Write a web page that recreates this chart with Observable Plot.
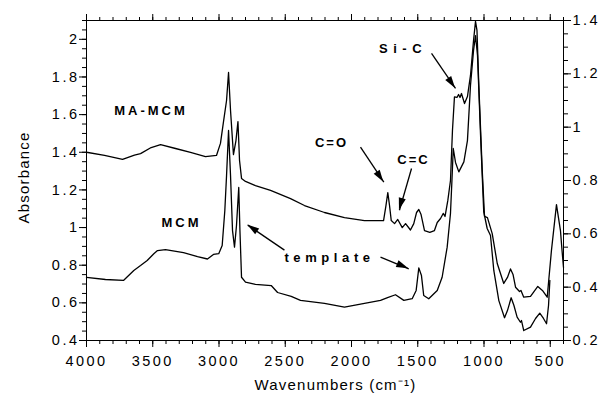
<!DOCTYPE html>
<html><head><meta charset="utf-8">
<script src="https://cdn.jsdelivr.net/npm/d3@7"></script>
<script src="https://cdn.jsdelivr.net/npm/@observablehq/plot@0.6"></script>
<style>
body{margin:0;background:#fff}
</style>
</head><body><div id="chart"></div>
<script>
// MA-MCM spectrum (wavenumber cm-1, absorbance on left axis)
const maWn = [4000,3864,3728,3638,3592,3512,3441,3328,3215,3102,3019,2989,
  2966,2943,2928,2913,2891,2872,2857,2845,2830,2800,
  2725,2611,2460,2355,2204,2053,1902,1758,1740,1726,
  1713,1700,1675,1651,1617,1592,1555,1530,1509,1492,
  1475,1449,1409,1374,1353,1328,1308,1294,1273,1253,
  1238,1223,1204,1192,1181,1170,1147,1125,1102,1079,
  1064,1053,1039,1014,996,974,938,900,851,823,
  800,781,762,732,721,700,649,594,559,523,
  491,453,423,411,400];
const maAbs = [1.400,1.384,1.362,1.385,1.393,1.425,1.441,1.420,1.399,1.377,1.383,1.447,
  1.563,1.675,1.824,1.622,1.388,1.462,1.563,1.356,1.261,1.245,
  1.223,1.197,1.154,1.117,1.080,1.053,1.037,1.037,1.117,1.186,
  1.117,1.037,1.021,1.043,1.000,1.021,0.987,1.021,1.080,1.096,
  1.069,0.984,0.975,0.984,1.027,1.048,1.075,1.059,1.144,1.250,
  1.516,1.694,1.691,1.707,1.691,1.712,1.659,1.696,1.808,1.994,
  2.095,2.047,1.755,1.314,1.059,1.053,0.968,0.809,0.703,0.735,
  0.780,0.751,0.683,0.660,0.666,0.630,0.634,0.687,0.666,0.630,
  0.878,1.122,0.984,0.878,0.788];
// MCM spectrum
const mcmWn = [4000,3857,3721,3643,3592,3542,3492,3464,3404,3268,3162,3087,
  3042,3002,2976,2956,2943,2928,2913,2898,2883,2868,
  2851,2842,2830,2800,2725,2606,2558,2455,2385,2204,
  2053,1902,1781,1728,1668,1605,1542,1512,1492,1472,
  1455,1417,1353,1316,1278,1253,1242,1232,1215,1190,
  1152,1125,1102,1079,1064,1049,1026,1002,976,951,
  926,888,845,823,795,774,750,725,717,700,
  649,611,579,551,528,513,503];
const mcmAbs = [0.735,0.724,0.719,0.772,0.798,0.825,0.861,0.878,0.883,0.867,0.846,0.833,
  0.857,0.861,0.905,1.091,1.277,1.516,1.277,0.984,0.896,1.011,
  1.213,0.984,0.736,0.710,0.698,0.692,0.655,0.634,0.613,0.597,
  0.577,0.597,0.613,0.628,0.643,0.613,0.622,0.666,0.786,0.745,
  0.639,0.622,0.666,0.736,0.896,1.075,1.250,1.420,1.346,1.296,
  1.349,1.462,1.755,1.941,2.020,1.914,1.491,1.084,0.995,0.958,
  0.772,0.612,0.521,0.559,0.627,0.586,0.524,0.497,0.506,0.453,
  0.471,0.517,0.545,0.517,0.489,0.586,0.719];

// ticks
const xMajorTicks = [4000,3500,3000,2500,2000,1500,1000,500];
const xMinorTicks = d3.range(4000, 399, -100);
const yLeftMajor = [0.4,0.6,0.8,1.0,1.2,1.4,1.6,1.8,2.0];
const yLeftMinor = d3.range(0, 35).map(i => +(0.4 + i*0.05).toFixed(2)).concat([2.1]);
const yRightMajor = [0.2,0.4,0.6,0.8,1.0,1.2,1.4];
const yRightMinor = d3.range(0, 25).map(i => +(0.2 + i*0.05).toFixed(2));

// annotations
const annLabels = ["MA-MCM","MCM","template","C=O","C=C","Si-C"];
const annWn = [3513,3283,2166,2151,1532,1611];
const annAbs = [1.622,1.024,0.841,1.449,1.362,1.949];
const annSpacing = [3,3,4.6,2,2,5.5];

const arrowFromWn = [1396,1932,1547,2506,1781];
const arrowFromAbs = [1.925,1.427,1.314,0.880,0.843];
const arrowToWn = [1215,1756,1638,2783,1568];
const arrowToAbs = [1.739,1.241,1.092,1.013,0.781];

const titles = ["Absorbance","Wavenumbers (cm\u207B\u00B9)"];
const titleWn = [4474,2121];
const titleAbs = [1.266,0.165];
const titleRotate = [-90,0];

// right axis mapping
const leftDom = [0.4,2.1], rightDom = [0.2,1.4];
const toLeft = r => leftDom[0] + (r - rightDom[0]) * (leftDom[1]-leftDom[0])/(rightDom[1]-rightDom[0]);
const fromLeft = l => rightDom[0] + (l - leftDom[0]) * (rightDom[1]-rightDom[0])/(leftDom[1]-leftDom[0]);
const fmt = v => String(+v.toFixed(2));

const ma = maWn.map((w,i) => ({w, a: maAbs[i]}));
const mcm = mcmWn.map((w,i) => ({w, a: mcmAbs[i]}));
const ann = annLabels.map((t,i) => ({t, w: annWn[i], a: annAbs[i]}));
const arrows = arrowFromWn.map((w,i) => ({x1: w, y1: arrowFromAbs[i], x2: arrowToWn[i], y2: arrowToAbs[i]}));
const tit = titles.map((t,i) => ({t, w: titleWn[i], a: titleAbs[i], r: titleRotate[i]}));

const font = "'Liberation Sans', Arial, Helvetica, sans-serif";
const plot = Plot.plot({
  width: 600, height: 394,
  marginTop: 20, marginBottom: 54, marginLeft: 86, marginRight: 37,
  x: {domain: [4000, 400]},
  y: {domain: leftDom},
  style: {fontFamily: font, fontSize: "14px", background: "white", color: "black", overflow: "visible"},
  marks: [
    Plot.axisX(xMajorTicks, {anchor: "bottom", tickSize: 7, tickPadding: 8, fontSize: 14.5, label: null, tickFormat: d => String(d)}),
    Plot.axisX(xMinorTicks, {anchor: "bottom", tickSize: 4, label: null, tickFormat: () => ""}),
    Plot.axisX(xMajorTicks, {anchor: "top", tickSize: 7, label: null, tickFormat: () => ""}),
    Plot.axisX(xMinorTicks, {anchor: "top", tickSize: 4, label: null, tickFormat: () => ""}),
    Plot.axisY(yLeftMajor, {anchor: "left", tickSize: 7, tickPadding: 0, fontSize: 14.5, label: null, tickFormat: fmt}),
    Plot.axisY(yLeftMinor, {anchor: "left", tickSize: 4, label: null, tickFormat: () => ""}),
    Plot.axisY(yRightMajor.map(toLeft), {anchor: "right", tickSize: 7, tickPadding: 2, fontSize: 14.5, label: null, tickFormat: d => fmt(fromLeft(d))}),
    Plot.axisY(yRightMinor.map(toLeft), {anchor: "right", tickSize: 4, label: null, tickFormat: () => ""}),
    Plot.frame({stroke: "black", strokeWidth: 1}),
    Plot.line(ma, {x: "w", y: "a", stroke: "black", strokeWidth: 1.3}),
    Plot.line(mcm, {x: "w", y: "a", stroke: "black", strokeWidth: 1.3}),
    Plot.link(arrows, {x1: "x1", y1: "y1", x2: "x2", y2: "y2", stroke: "black", strokeWidth: 1.3}),
    Plot.text(ann, {x: "w", y: "a", text: "t", fontWeight: "bold", fontSize: 13, fill: "black"}),
    Plot.text(tit, {x: "w", y: "a", text: "t", rotate: "r", fontSize: 15, fill: "black"})
  ]
});

// letter-spacing and filled arrowheads
const svg = d3.select(plot.tagName.toLowerCase() === "svg" ? plot : plot.querySelector("svg"));
svg.selectAll("text").each(function() {
  const t = this.textContent;
  const k = annLabels.indexOf(t);
  if (k >= 0) { this.style.letterSpacing = annSpacing[k] + "px"; return; }
  if (titles.includes(t)) { this.style.letterSpacing = "1.2px"; return; }
  if (t && /^[0-9.]+$/.test(t)) this.style.letterSpacing = "2.5px";
});
const sxo = plot.scale("x"), syo = plot.scale("y");
const sx = sxo.apply ? (v => sxo.apply(v)) : d3.scaleLinear(sxo.domain, sxo.range);
const sy = syo.apply ? (v => syo.apply(v)) : d3.scaleLinear(syo.domain, syo.range);
const heads = svg.append("g").attr("aria-label", "arrowheads");
arrows.forEach(a => {
  const x1 = sx(a.x1), y1 = sy(a.y1), x2 = sx(a.x2), y2 = sy(a.y2);
  const ang = Math.atan2(y2 - y1, x2 - x1);
  const L = 12, W = 3.6;
  const c = Math.cos(ang), s = Math.sin(ang);
  const bx = x2 - L * c, by = y2 - L * s;
  heads.append("path")
    .attr("d", `M${x2},${y2}L${bx - W * s},${by + W * c}L${bx + W * s},${by - W * c}Z`)
    .attr("fill", "black");
});
document.getElementById("chart").append(plot);
</script>
</body></html>
